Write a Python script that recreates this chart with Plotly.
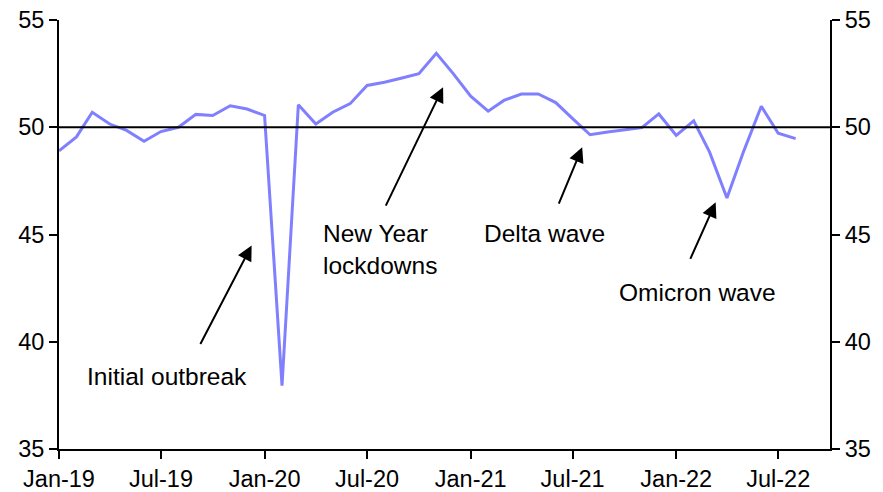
import plotly.graph_objects as go
import pandas as pd

dates = pd.date_range("2019-01-01", "2022-08-01", freq="MS")
values = [48.9, 49.55, 50.7, 50.15, 49.85, 49.35, 49.8, 50.0, 50.6, 50.55, 51.0, 50.85,
          50.55, 37.95, 51.05, 50.15, 50.7, 51.1, 51.95, 52.1, 52.3, 52.5, 53.45, 52.5,
          51.45, 50.75, 51.25, 51.55, 51.55, 51.15, 50.4, 49.65, 49.78, 49.88, 49.98, 50.62,
          49.62, 50.3, 48.85, 46.7, 48.9, 50.98, 49.72, 49.47]

annot_texts = ["Initial outbreak", "New Year<br>lockdowns", "Delta wave", "Omicron wave"]
annot_x = ["2019-07-12", "2020-04-11", "2021-05-12", "2022-02-07"]
annot_y = [38.36, 44.3, 45.05, 42.29]
annot_anchor = ["center", "left", "center", "center"]

arrow_x = ["2019-12-09", "2020-11-13", "2021-07-18", "2022-03-12"]
arrow_y = [44.49, 51.87, 49.07, 46.5]
arrow_ax = [-52, -58, -24, -26]
arrow_ay = [100, 120, 58, 58]

FONT = "Liberation Sans, Arial, sans-serif"
FS = 23.5
AFS = 24.5

fig = go.Figure()
fig.add_trace(go.Scatter(x=dates, y=values, mode="lines",
                         line=dict(color="#8080FF", width=3), showlegend=False,
                         hoverinfo="skip"))
fig.add_trace(go.Scatter(x=dates, y=values, mode="lines", yaxis="y2",
                         line=dict(color="rgba(0,0,0,0)", width=0), showlegend=False,
                         hoverinfo="skip"))

fig.add_shape(type="line", xref="paper", x0=0, x1=1, yref="y", y0=50, y1=50,
              line=dict(color="black", width=2))

for t, x, y, a in zip(annot_texts, annot_x, annot_y, annot_anchor):
    fig.add_annotation(x=x, y=y, text=t, showarrow=False, xanchor=a, yanchor="middle",
                       align="left", font=dict(family=FONT, size=AFS, color="black"))

for x, y, ax, ay in zip(arrow_x, arrow_y, arrow_ax, arrow_ay):
    fig.add_annotation(x=x, y=y, text="", showarrow=True, ax=ax, ay=ay,
                       arrowhead=2, arrowsize=1.5, arrowwidth=2, arrowcolor="black")

axis_common = dict(showgrid=False, zeroline=False, showline=True, linecolor="black",
                   linewidth=2, ticks="outside", ticklen=8, tickwidth=2, tickcolor="black",
                   automargin=False,
                   tickfont=dict(family=FONT, size=FS, color="black"))

fig.update_layout(
    width=883, height=492,
    margin=dict(l=59, r=53, t=20, b=43),
    paper_bgcolor="white", plot_bgcolor="white",
    font=dict(family=FONT, size=FS, color="black"),
    xaxis=dict(range=["2019-01-01", "2022-10-01"], tickformat="%b-%y", dtick="M6",
               tick0="2019-01-01", **axis_common),
    yaxis=dict(range=[35, 55], dtick=5, **axis_common),
    yaxis2=dict(range=[35, 55], dtick=5, overlaying="y", side="right", **axis_common),
)

fig.write_html("out.html")
